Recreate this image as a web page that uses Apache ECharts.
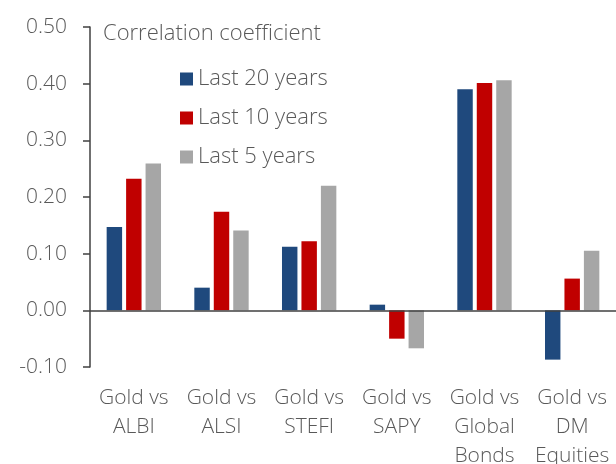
<!DOCTYPE html>
<html>
<head>
<meta charset="utf-8">
<script src="https://cdn.jsdelivr.net/npm/echarts@6/dist/echarts.min.js"></script>
<style>
  html, body { margin: 0; padding: 0; background: #fff; }
  #chart { width: 616px; height: 464px; }
</style>
</head>
<body>
<div id="chart"></div>
<script>
const categories = [
  "Gold vs\nALBI",
  "Gold vs\nALSI",
  "Gold vs\nSTEFI",
  "Gold vs\nSAPY",
  "Gold vs\nGlobal\nBonds",
  "Gold vs\nDM\nEquities",
];
const last20 = [0.147, 0.040, 0.112, 0.010, 0.390, -0.087];
const last10 = [0.232, 0.174, 0.122, -0.050, 0.401, 0.056];
const last5 = [0.259, 0.141, 0.220, -0.067, 0.406, 0.105];
const seriesNames = ["Last 20 years", "Last 10 years", "Last 5 years"];
const colors = ["#1f497d", "#c00000", "#a6a6a6"];

const font = "Open Sans";
const textGray = "#595959";
const axisGray = "#404040";

const chart = echarts.init(document.getElementById("chart"));

const option = {
  animation: false,
  color: colors,
  title: {
    text: "Correlation coefficient",
    left: 98,
    top: 18,
    textStyle: { fontFamily: font, fontWeight: 300, fontSize: 22, color: textGray },
  },
  legend: {
    orient: "vertical",
    left: 175,
    top: 63,
    icon: "rect",
    itemWidth: 13,
    itemHeight: 13,
    itemGap: 17,
    data: seriesNames,
    textStyle: { fontFamily: font, fontWeight: 300, fontSize: 22, color: textGray },
  },
  grid: { left: 90, right: 0, top: 27, bottom: 97, outerBoundsMode: "none" },
  xAxis: {
    type: "category",
    data: categories,
    axisLine: { show: false, onZero: false },
    axisTick: { show: false },
    axisLabel: {
      interval: 0,
      margin: 17,
      fontFamily: font,
      fontWeight: 300,
      fontSize: 21,
      lineHeight: 29,
      color: textGray,
    },
  },
  yAxis: {
    type: "value",
    min: -0.1,
    max: 0.5,
    interval: 0.1,
    splitLine: { show: false },
    axisLine: { show: true, lineStyle: { color: axisGray, width: 1.5 } },
    axisTick: { show: true, length: 7, lineStyle: { color: axisGray, width: 1.5 } },
    axisLabel: {
      margin: 23,
      fontFamily: font,
      fontWeight: 300,
      fontSize: 21,
      color: textGray,
      formatter: (v) => v.toFixed(2),
    },
  },
  series: [
    {
      name: seriesNames[0],
      type: "bar",
      data: last20,
      barGap: "26%",
      barCategoryGap: "38%",
      markLine: {
        silent: true,
        symbol: "none",
        label: { show: false },
        lineStyle: { color: axisGray, width: 1.5, type: "solid" },
        data: [{ yAxis: 0 }],
      },
    },
    { name: seriesNames[1], type: "bar", data: last10, barGap: "26%", barCategoryGap: "38%" },
    { name: seriesNames[2], type: "bar", data: last5, barGap: "26%", barCategoryGap: "38%" },
  ],
};

chart.setOption(option);
</script>
</body>
</html>
